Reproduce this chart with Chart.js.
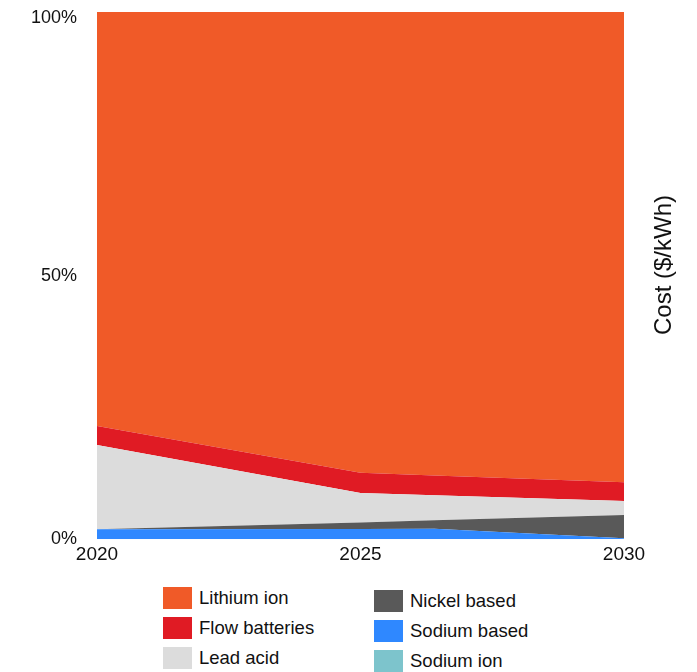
<!DOCTYPE html>
<html>
<head>
<meta charset="utf-8">
<script src="https://cdn.jsdelivr.net/npm/chart.js@4/dist/chart.umd.min.js"></script>
<style>
  html, body { margin: 0; padding: 0; background: #fff; }
  body { width: 697px; height: 672px; position: relative; overflow: hidden; font-family: "Liberation Sans", Arial, sans-serif; }
  #wrap { position: absolute; left: 0; top: 0; width: 697px; height: 575px; }
  .leg { position: absolute; display: flex; align-items: center; font-size: 18.5px; color: #111; }
  .leg .box { width: 29px; height: 22px; margin-right: 7px; }
</style>
</head>
<body>
<div id="wrap"><canvas id="grafico"></canvas></div>
<div id="legenda"></div>
<script>
// anos (eixo x) - o ponto 2026.4 e onde a serie azul muda de inclinacao
const anos = [2020, 2025, 2026.4, 2030];

// participacao (%) de cada tecnologia, de baixo para cima
const sodioIon     = [0, 0, 0, 0];
const sodioBase    = [1.9, 1.95, 2.0, 0.2];
const niquel       = [0, 1.25, 1.6, 4.4];
const chumboAcido  = [16.0, 5.6, 4.77, 2.66];
const fluxo        = [3.6, 3.8, 3.73, 3.54];
const litioIon     = [78.5, 87.4, 87.9, 89.2];

const ticksX = [2020, 2025, 2030];
const ticksY = [0, 50, 100];

const series = [
    { label: 'Sodium ion',     data: sodioIon,    cor: '#7dc4cc' },
    { label: 'Sodium based',   data: sodioBase,   cor: '#2f88ff' },
    { label: 'Nickel based',   data: niquel,      cor: '#595959' },
    { label: 'Lead acid',      data: chumboAcido, cor: '#dcdcdc' },
    { label: 'Flow batteries', data: fluxo,       cor: '#e01b24' },
    { label: 'Lithium ion',    data: litioIon,    cor: '#f05a28' }
];

// ordem da legenda (duas colunas)
const legendaOrdem = [
    ['Lithium ion', 'Flow batteries', 'Lead acid'],
    ['Nickel based', 'Sodium based', 'Sodium ion']
];

const fonte = '"Liberation Sans", Arial, sans-serif';

const tituloDireita = {
    id: 'tituloDireita',
    afterDraw(chart) {
        const ctx = chart.ctx;
        ctx.save();
        ctx.translate(664, 265);
        ctx.rotate(-Math.PI / 2);
        ctx.font = '24px ' + fonte;
        ctx.fillStyle = '#111';
        ctx.textAlign = 'center';
        ctx.textBaseline = 'middle';
        ctx.fillText('Cost ($/kWh)', 0, 0);
        ctx.restore();
    }
};

const ctx = document.getElementById('grafico').getContext('2d');
new Chart(ctx, {
    type: 'line',
    data: {
        datasets: series.map((s, i) => ({
            label: s.label,
            data: anos.map((a, j) => ({ x: a, y: s.data[j] })),
            backgroundColor: s.cor,
            borderColor: s.cor,
            borderWidth: 0,
            pointRadius: 0,
            tension: 0,
            fill: i === 0 ? 'origin' : '-1'
        }))
    },
    options: {
        responsive: true,
        maintainAspectRatio: false,
        animation: false,
        layout: { padding: { top: 12, right: 73, left: 0, bottom: 0 } },
        plugins: { legend: { display: false }, tooltip: { enabled: false } },
        scales: {
            x: {
                type: 'linear',
                min: 2020,
                max: 2030,
                grid: { display: false, drawTicks: false },
                border: { display: false },
                afterFit: (scale) => {
                    scale.height = 35.7;
                    scale.paddingLeft = 0;
                    scale.paddingRight = 0;
                },
                afterBuildTicks: (scale) => { scale.ticks = ticksX.map(v => ({ value: v })); },
                ticks: {
                    padding: 4,
                    maxRotation: 0,
                    color: '#111',
                    font: { family: fonte, size: 19 },
                    callback: (v) => String(v)
                }
            },
            y: {
                stacked: true,
                min: 0,
                max: 100,
                grid: { display: false, drawTicks: false },
                border: { display: false },
                afterFit: (scale) => {
                    scale.width = 97;
                    scale.paddingTop = 0;
                    scale.paddingBottom = 0;
                },
                afterBuildTicks: (scale) => { scale.ticks = ticksY.map(v => ({ value: v })); },
                ticks: {
                    padding: 20,
                    color: '#111',
                    font: { family: fonte, size: 18, lineHeight: 0.67 },
                    // o rotulo do topo fica um pouco abaixo da linha (como no original)
                    callback: (v) => v === 100 ? ['', v + '%'] : v + '%'
                }
            }
        }
    },
    plugins: [tituloDireita]
});

// legenda em html
const legenda = document.getElementById('legenda');
const colunas = [{ x: 163, y: 587 }, { x: 374, y: 590 }];
legendaOrdem.forEach((col, c) => {
    col.forEach((nome, r) => {
        const s = series.find(d => d.label === nome);
        const item = document.createElement('div');
        item.className = 'leg';
        item.style.left = colunas[c].x + 'px';
        item.style.top = (colunas[c].y + r * 30) + 'px';
        item.innerHTML = '<span class="box" style="background:' + s.cor + '"></span><span>' + nome + '</span>';
        legenda.appendChild(item);
    });
});
</script>
</body>
</html>
